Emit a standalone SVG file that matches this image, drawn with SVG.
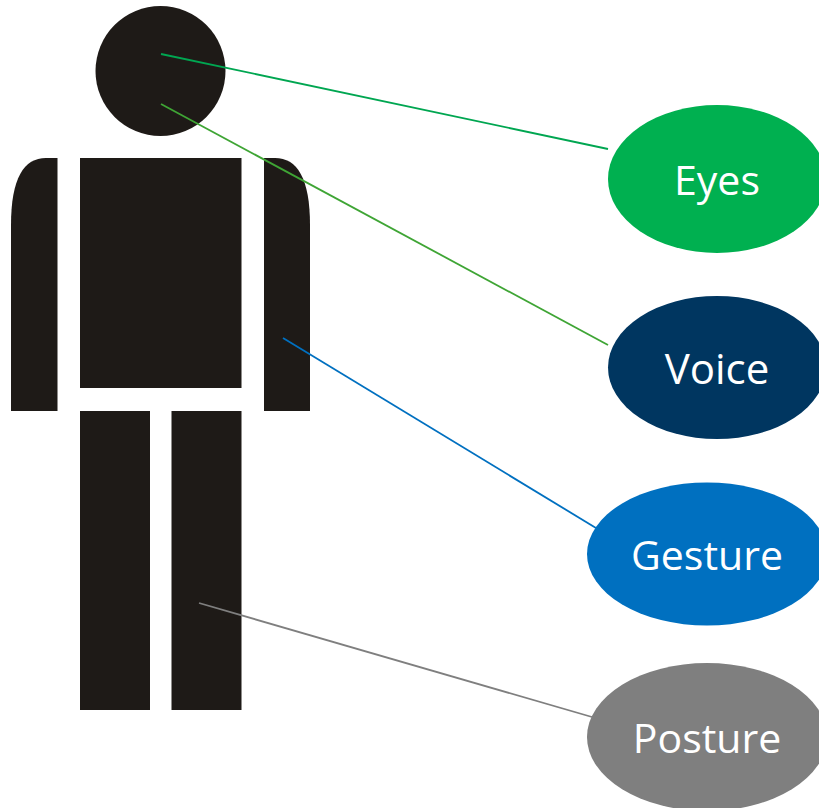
<svg xmlns="http://www.w3.org/2000/svg" width="819" height="808" viewBox="0 0 819 808">
<style>
.body{fill:#1e1a17}
.lbl{font-family:"Open Sans","Noto Sans",sans-serif;font-size:41px;fill:#fff;text-anchor:middle}
.c{fill:none;stroke-width:1.8}
</style>
<rect width="819" height="808" fill="#fff"/>
<g id="figure">
<circle class="body" cx="160.500" cy="71" r="65"/>
<path class="body" d="M57.500 158H46C24 158 11 178 11 225V411H57.500Z"/>
<rect class="body" x="80" y="158" width="161.500" height="230"/>
<path class="body" d="M264 158H275C297 158 310 178 310 225V411H264Z"/>
<rect class="body" x="80" y="411" width="70" height="299"/>
<rect class="body" x="171.500" y="411" width="70" height="299"/>
</g>
<g id="connectors">
<line class="c" x1="161" y1="54" x2="608" y2="149" stroke="#00a651"/>
<line class="c" x1="161" y1="104" x2="608" y2="345" stroke="#3fa535"/>
<line class="c" x1="283" y1="338" x2="596" y2="528" stroke="#0070c0"/>
<line class="c" x1="199" y1="603" x2="592" y2="717" stroke="#7f7f7f"/>
</g>
<g id="node-eyes"><ellipse cx="717" cy="179" rx="109" ry="74" fill="#00b050"/><text class="lbl" x="717" y="195">Eyes</text></g>
<g id="node-voice"><ellipse cx="717" cy="367.500" rx="109" ry="71.500" fill="#003660"/><text class="lbl" x="717" y="384" font-size="42" style="font-size:42px">Voice</text></g>
<g id="node-gesture"><ellipse cx="707" cy="554" rx="120" ry="71.500" fill="#0070c0"/><text class="lbl" x="707" y="570">Gesture</text></g>
<g id="node-posture"><ellipse cx="707" cy="737" rx="120" ry="74" fill="#7f7f7f"/><text class="lbl" x="707" y="753">Posture</text></g>
</svg>
